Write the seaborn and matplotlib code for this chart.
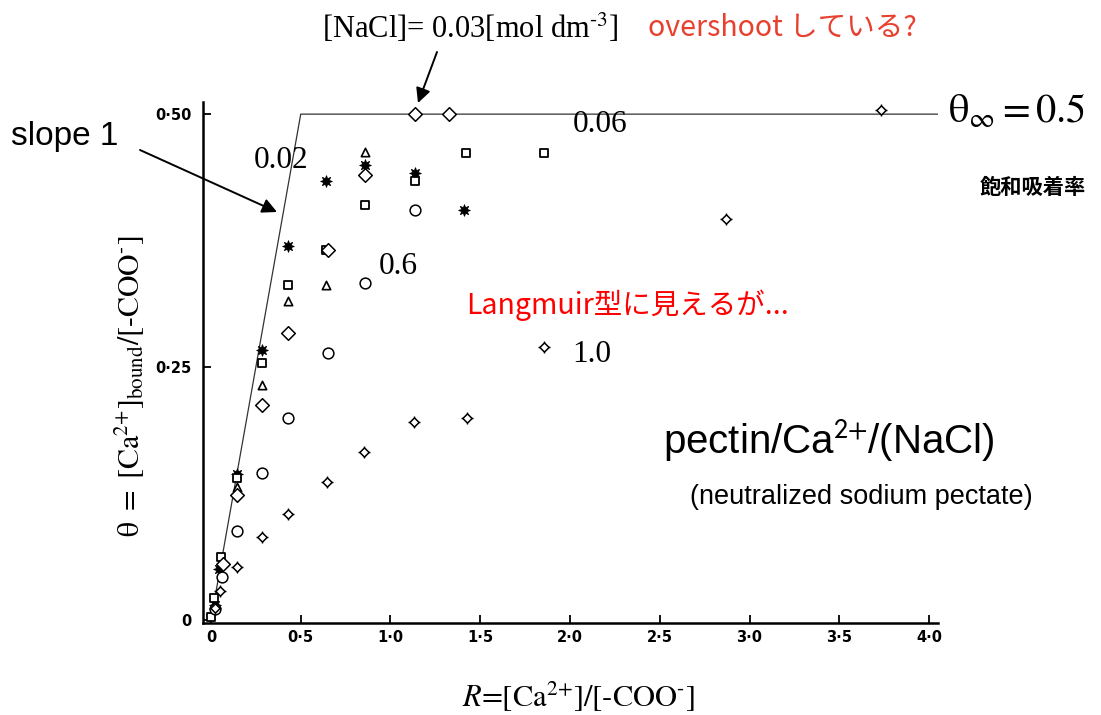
import numpy as np
import pandas as pd
import matplotlib
matplotlib.use("Agg")
import matplotlib.pyplot as plt
import seaborn as sns

# ---------------- data ----------------
star_x = [0.02, 0.045, 0.145, 0.285, 0.43, 0.64, 0.858, 1.137, 1.41]
star_y = [0.015, 0.050, 0.144, 0.267, 0.370, 0.434, 0.450, 0.442, 0.405]

square_x = [0.0, 0.017, 0.056, 0.145, 0.285, 0.43, 0.64, 0.858, 1.137, 1.418, 1.853]
square_y = [0.003, 0.022, 0.062, 0.140, 0.254, 0.331, 0.366, 0.410, 0.434, 0.462, 0.462]

tri_x = [0.068, 0.145, 0.285, 0.43, 0.64, 0.858]
tri_y = [0.057, 0.131, 0.232, 0.315, 0.331, 0.463]

diam_x = [0.068, 0.145, 0.285, 0.43, 0.65, 0.858, 1.137, 1.326]
diam_y = [0.055, 0.124, 0.212, 0.284, 0.366, 0.440, 0.500, 0.500]

circ_x = [0.02, 0.06, 0.145, 0.285, 0.43, 0.65, 0.858, 1.137]
circ_y = [0.011, 0.042, 0.088, 0.145, 0.200, 0.264, 0.333, 0.405]

cross_x = [0.02, 0.05, 0.145, 0.285, 0.43, 0.645, 0.85, 1.13, 1.425, 1.853, 2.87, 3.73]
cross_y = [0.012, 0.029, 0.052, 0.082, 0.105, 0.136, 0.166, 0.196, 0.200, 0.270, 0.396, 0.504]

# saturation model line: slope 1 up to theta_inf = 0.5
model_x = [0.0, 0.5, 4.05]
model_y = [0.0, 0.5, 0.5]

x_ticks = [0, 0.5, 1.0, 1.5, 2.0, 2.5, 3.0, 3.5, 4.0]
x_ticklabels = ["0", "0·5", "1·0", "1·5", "2·0", "2·5", "3·0", "3·5", "4·0"]
y_ticks = [0, 0.25, 0.50]
y_ticklabels = ["0", "0·25", "0·50"]

# ---------------- figure ----------------
sns.set_theme(style="ticks")
plt.rcParams["font.family"] = ["DejaVu Sans"]
plt.rcParams["text.color"] = "black"
plt.rcParams["xtick.color"] = "black"
plt.rcParams["ytick.color"] = "black"

W, H = 1101, 715
fig = plt.figure(figsize=(W / 100, H / 100), dpi=100)
fig.patch.set_facecolor("white")
ax = fig.add_axes([202.9 / W, (H - 623) / H, (938 - 202.9) / W, (623 - 102) / H])
ax.set_facecolor("white")

sns.lineplot(x=model_x, y=model_y, ax=ax, color="#333333", lw=0.9, sort=False, estimator=None)

mk = dict(ax=ax, legend=False, zorder=3)
sns.scatterplot(x=star_x, y=star_y, marker=(8, 1, 0), s=70, color="black", edgecolor="black", linewidth=0.6, **mk)
sns.scatterplot(x=square_x, y=square_y, marker="s", s=36, facecolor="white", edgecolor="black", linewidth=1.3, **mk)
sns.scatterplot(x=tri_x, y=tri_y, marker="^", s=36, facecolor="white", edgecolor="black", linewidth=1.2, **mk)
sns.scatterplot(x=diam_x, y=diam_y, marker="D", s=48, facecolor="white", edgecolor="black", linewidth=1.1, **mk)
sns.scatterplot(x=circ_x, y=circ_y, marker="o", s=60, facecolor="white", edgecolor="black", linewidth=1.1, **mk)
sns.scatterplot(x=cross_x, y=cross_y, marker="+", s=80, color="black", linewidth=1.0, **mk)
sns.scatterplot(x=cross_x, y=cross_y, marker="D", s=22, facecolor="white", edgecolor="black", linewidth=1.1, **mk)

ax.set_xlim(-0.045, 4.05)
ax.set_ylim(-0.003, 0.512)
ax.set_xticks(x_ticks)
ax.set_xticklabels(x_ticklabels)
ax.set_yticks(y_ticks)
ax.set_yticklabels(y_ticklabels)
for lab in ax.get_xticklabels() + ax.get_yticklabels():
    lab.set_fontfamily(["Liberation Sans Narrow", "DejaVu Sans"])
    lab.set_fontweight("bold")
    lab.set_fontsize(10.5)
    lab.set_color("black")
ax.tick_params(axis="both", direction="in", length=6, width=1.3, colors="black", pad=5)
ax.tick_params(axis="y", pad=8)
sns.despine(ax=ax)
for side in ("left", "bottom"):
    ax.spines[side].set_linewidth(1.8)
    ax.spines[side].set_color("black")
ax.set_xlabel("")
ax.set_ylabel("")

def T(x, y, s, **kw):
    kw.setdefault("ha", "center")
    kw.setdefault("va", "center")
    kw.setdefault("color", "black")
    fig.text(x / W, 1 - y / H, s, **kw)

serif = ["Liberation Serif", "DejaVu Serif"]
sans = ["Liberation Sans", "DejaVu Sans"]
cjk = ["Noto Sans CJK JP", "DejaVu Sans"]

T(65, 137, "slope 1", family=sans, size=24)
T(281, 160, "0.02", family=serif, size=22.5)
T(600, 125, "0.06", family=serif, size=22.5)
T(398, 267, "0.6", family=serif, size=22.5)
T(592, 355, "1.0", family=serif, size=22.5)
T(470, 28, r"[NaCl]= 0.03[mol dm$^{\text{-}3}$]", family=serif, size=22, math_fontfamily="stix")
T(782, 28, "overshoot している?", family=cjk, size=20.5, color="#e8402f")
T(466, 305, "Langmuir型に見えるが...", family=cjk, size=20.5, color="#ff0000", ha="left")
T(1017, 112, r"$\mathrm{\theta}_{\infty}=0.5$", size=29, math_fontfamily="stix")
T(1033, 188, "飽和吸着率", family=cjk, size=15.3, weight="bold")
T(829, 440, r"pectin/Ca$^{2\text{+}}$/(NaCl)", family=sans, size=29, math_fontfamily="stixsans")
T(861, 497, "(neutralized sodium pectate)", family=sans, size=19.5)
T(130, 386, r"$\mathrm{\theta\ =\ [Ca^{2\text{+}}]_{bound}/[\text{-}COO^{\text{-}}]}$", size=21.5,
  rotation=90, math_fontfamily="stix")
T(578, 697, r"$R\text{=}\mathrm{[Ca^{2\text{+}}]/[\text{-}COO^{\text{-}}]}$", size=22, math_fontfamily="stix")

arrow = dict(arrowstyle="-|>", color="black", lw=1.4, mutation_scale=22, shrinkA=0, shrinkB=0)
ax.annotate("", xy=(277, H - 212), xytext=(140, H - 150), xycoords="figure pixels",
            textcoords="figure pixels", arrowprops=arrow, annotation_clip=False)
ax.annotate("", xy=(418, H - 103), xytext=(437, H - 52), xycoords="figure pixels",
            textcoords="figure pixels", arrowprops=arrow, annotation_clip=False)

fig.savefig("out.png", dpi=100, facecolor="white")
